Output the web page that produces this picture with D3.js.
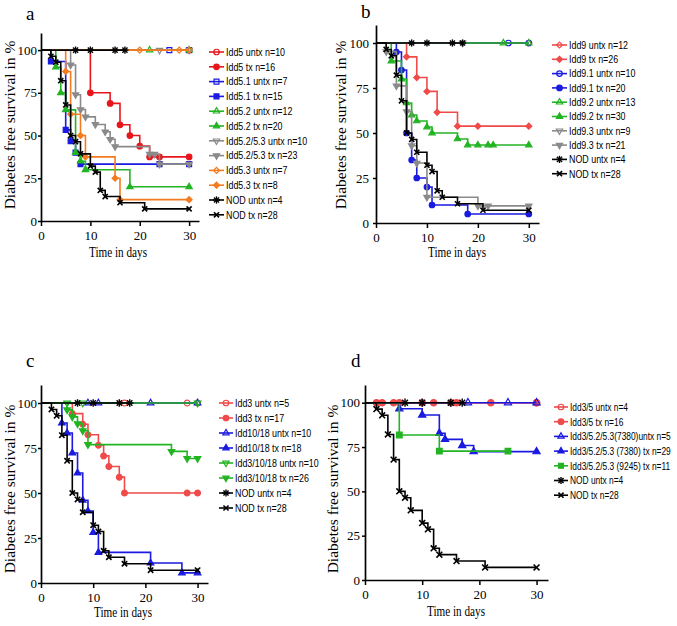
<!DOCTYPE html>
<html><head><meta charset="utf-8">
<script src="https://cdn.jsdelivr.net/npm/d3@7"></script>
<style>
body{margin:0;background:#fff;}
svg{display:block;}
</style></head><body>
<svg id="chart" width="677" height="626"></svg>
<script>
// ---------- data ----------
const ticksY = [0, 25, 50, 75, 100];
const ticksX = [0, 10, 20, 30];
const xAxisTitle = "Time in days";
const yAxisTitle = "Diabetes free survival in %";

const nodNames = ["NOD untx n=4", "NOD tx n=28"];
const nodUntxDays = [7, 10, 15, 17];
const nodUntxSurv = [100, 100, 100, 100];
const nodTxDays = [2, 3, 4, 5, 6, 7, 8, 10, 11, 12, 13, 16, 21, 30];
const nodTxSurv = [96.4, 92.9, 82.1, 67.9, 50, 46.4, 39.3, 32.1, 28.6, 17.9, 14.3, 10.7, 7.1, 7.1];

// panel a
const aNames = ["Idd5 untx n=10", "Idd5 tx n=16", "Idd5.1 untx n=7", "Idd5.1 tx n=15", "Idd5.2 untx n=12", "Idd5.2 tx n=20", "Idd5.2/5.3 untx n=10", "Idd5.2/5.3 tx n=23", "Idd5.3 untx n=7", "Idd5.3 tx n=8"];
const aDays = [[30], [10, 14, 16, 18, 20, 22, 24, 30], [26, 30], [2, 5, 6, 7, 8, 24, 30], [22, 30], [3, 4, 5, 7, 8, 9, 18, 30], [24, 30], [6, 7, 8, 9, 11, 13, 14, 15, 22, 23, 24, 30], [20, 28, 30], [5, 6, 8, 9, 15, 16, 30]];
const aSurv = [[100], [75, 68.8, 56.3, 50, 43.8, 37.5, 37.5, 37.5], [100, 100], [93.3, 53.3, 46.7, 40, 33.3, 33.3, 33.3], [100, 100], [90, 75, 65, 40, 35, 30, 20, 20], [100, 100], [91.3, 73.9, 65.2, 60.9, 56.5, 52.2, 47.8, 43.5, 39.1, 39.1, 33.3, 33.3], [100, 100, 100], [87.5, 62.5, 50, 37.5, 25, 12.5, 12.5]];

// panel b
const bNames = ["Idd9 untx n=12", "Idd9 tx n=26", "Idd9.1 untx n=10", "Idd9.1 tx n=20", "Idd9.2 untx n=13", "Idd9.2 tx n=30", "Idd9.3 untx n=9", "Idd9.3 tx n=21"];
const bDays = [[30], [6, 8, 10, 12, 16, 20, 30], [26, 30], [4, 5, 6, 7, 8, 10, 11, 18, 30], [25, 30], [3, 5, 6, 7, 8, 10, 11, 16, 18, 20, 22, 23, 30], [17], [2, 4, 6, 7, 8, 10, 20, 22, 30]];
const bSurv = [[100], [92.3, 80.8, 73.1, 61.5, 53.8, 53.8, 53.8], [100, 100], [95, 85, 50, 35, 25, 20, 10, 5, 5], [100, 100], [90, 80, 66.7, 60, 56.7, 53.3, 50, 46.7, 43.3, 43.3, 43.3, 43.3, 43.3], [100], [95.2, 76.2, 61.9, 42.9, 33.3, 14.3, 9.5, 9.5, 9.5]];

// panel c
const cNames = ["Idd3 untx n=5", "Idd3 tx n=17", "Idd10/18 untx n=10", "Idd10/18 tx n=18", "Idd3/10/18 untx n=10", "Idd3/10/18 tx n=26"];
const cDays = [[16, 28, 30], [6, 8, 9, 11, 12, 13, 15, 16, 28, 30], [9, 11, 21, 30], [4, 5, 6, 7, 8, 9, 10, 11, 21, 27, 30], [5, 8, 30], [5, 6, 7, 8, 9, 25, 28, 30]];
const cSurv = [[100, 100, 100], [94.1, 88.2, 82.4, 76.5, 70.6, 64.7, 58.8, 50, 50, 50], [100, 100, 100, 100], [88.9, 83.3, 72.2, 61.1, 46, 40, 28, 17, 11.1, 5.6, 5.6], [100, 100, 100], [96.2, 92.3, 88.5, 84.6, 76.9, 73.1, 69.2, 69.2]];

// panel d
const dNames = ["Idd3/5 untx n=4", "Idd3/5 tx n=16", "Idd3/5.2/5.3(7380)untx n=5", "Idd3/5.2/5.3 (7380) tx n=29", "Idd3/5.2/5.3 (9245) tx n=11"];
const dDays = [[30], [2, 3, 5, 6, 10, 12, 15, 16, 22, 30], [18, 25, 30], [6, 10, 13, 14, 17, 19, 30], [6, 13, 25]];
const dSurv = [[100], [100, 100, 100, 100, 100, 100, 100, 100, 100, 100], [100, 100, 100], [96.6, 93.1, 82.8, 79.3, 75.9, 72.4, 72.4], [81.8, 72.7, 72.7]];

// ---------- styles ----------
const RED_A = "#e8161c", RED = "#f04a4a", BLUE = "#1a1ae0", GREEN = "#22b422", GRAY = "#8a8a8a", ORANGE = "#f47b20", BLACK = "#000";
const nodColors = [BLACK, BLACK];
const nodSymbols = ["asterisk", "cross"];
const aColors = [RED_A, RED_A, BLUE, BLUE, GREEN, GREEN, GRAY, GRAY, ORANGE, ORANGE];
const aSymbols = ["circle-open", "circle", "square-open", "square", "triangle-open", "triangle", "tridown-open", "tridown", "diamond-open", "diamond"];
const bColors = [RED, RED, BLUE, BLUE, GREEN, GREEN, GRAY, GRAY];
const bSymbols = ["diamond-open", "diamond", "circle-open", "circle", "triangle-open", "triangle", "tridown-open", "tridown"];
const cColors = [RED, RED, BLUE, BLUE, GREEN, GREEN];
const cSymbols = ["circle-open", "circle", "triangle-open", "triangle", "tridown-open", "tridown"];
const dColors = [RED, RED, BLUE, BLUE, GREEN];
const dSymbols = ["circle-open", "circle", "triangle-open", "triangle", "square"];

const panels = [
  {letter: "a", names: aNames, days: aDays, surv: aSurv, colors: aColors, symbols: aSymbols,
   x0: 41, x32: 199, y0: 221, y110: 33, pad: 1, letterPos: [26, 20], ylab: [15, 125], xlab: [118, 257],
   leg: {x1: 209, x2: 224, tx: 226, y: 52, dy: 14.8, sx: 0.84}, ms: 1},
  {letter: "b", names: bNames, days: bDays, surv: bSurv, colors: bColors, symbols: bSymbols,
   x0: 376, x32: 539, y0: 223, y110: 25, pad: 4, letterPos: [361, 18], ylab: [346, 125], xlab: [457, 257],
   leg: {x1: 552, x2: 567, tx: 569, y: 45, dy: 14.3, sx: 0.84}, ms: 1},
  {letter: "c", names: cNames, days: cDays, surv: cSurv, colors: cColors, symbols: cSymbols,
   x0: 41, x32: 208, y0: 583, y110: 385, pad: 1, letterPos: [26, 367], ylab: [15, 489], xlab: [123, 617],
   leg: {x1: 219, x2: 233, tx: 235, y: 403, dy: 15, sx: 0.84}, ms: 1.05},
  {letter: "d", names: dNames, days: dDays, surv: dSurv, colors: dColors, symbols: dSymbols,
   x0: 365, x32: 548, y0: 580, y110: 385, pad: 2, letterPos: [351, 367], ylab: [338, 489], xlab: [456, 616],
   leg: {x1: 554, x2: 568, tx: 570, y: 407, dy: 14.7, sx: 0.79}, ms: 1.15}
];

const svg = d3.select("#chart");
const serif = "'Liberation Serif','Times New Roman',serif";
const sans = "'Liberation Sans',Arial,sans-serif";

function drawSymbol(g, type, cx, cy, color, k) {
  const open = type.endsWith("-open");
  const base = type.replace("-open", "");
  if (base === "asterisk") {
    const r = 3.6 * k;
    [0, 45, 90, 135].forEach(a => {
      const rad = a * Math.PI / 180;
      g.append("line").attr("x1", cx - r * Math.cos(rad)).attr("y1", cy - r * Math.sin(rad))
        .attr("x2", cx + r * Math.cos(rad)).attr("y2", cy + r * Math.sin(rad))
        .attr("stroke", color).attr("stroke-width", 1.4);
    });
    return;
  }
  if (base === "cross") {
    const r = 3.6 * k;
    [45, 135].forEach(a => {
      const rad = a * Math.PI / 180;
      g.append("line").attr("x1", cx - r * Math.cos(rad)).attr("y1", cy - r * Math.sin(rad))
        .attr("x2", cx + r * Math.cos(rad)).attr("y2", cy + r * Math.sin(rad))
        .attr("stroke", color).attr("stroke-width", 1.6);
    });
    return;
  }
  let sym = d3.symbolCircle, rot = 0, area = 24;
  if (base === "square") { sym = d3.symbolSquare; area = 24; }
  if (base === "triangle") { sym = d3.symbolTriangle; area = 17; }
  if (base === "tridown") { sym = d3.symbolTriangle; rot = 180; area = 17; }
  if (base === "diamond") { sym = d3.symbolSquare; rot = 45; area = 18; }
  g.append("path").attr("d", d3.symbol(sym, area * k * k)())
    .attr("transform", `translate(${cx},${cy}) rotate(${rot})`)
    .attr("fill", open ? "none" : color)
    .attr("stroke", color).attr("stroke-width", 1.2);
}

panels.forEach(p => {
  const x = d3.scaleLinear().domain([0, 32]).range([p.x0, p.x32]);
  const y = d3.scaleLinear().domain([0, 110]).range([p.y0, p.y110]);
  const g = svg.append("g");

  const names = p.names.concat(nodNames);
  const days = p.days.concat([nodUntxDays, nodTxDays]);
  const surv = p.surv.concat([nodUntxSurv, nodTxSurv]);
  const colors = p.colors.concat(nodColors);
  const symbols = p.symbols.concat(nodSymbols);

  const line = d3.line().x(d => x(d[0])).y(d => y(d[1])).curve(d3.curveStepAfter);

  names.forEach((n, i) => {
    const pts = [[0, 100]].concat(days[i].map((t, j) => [t, surv[i][j]]));
    const sg = g.append("g");
    sg.append("path").attr("d", line(pts)).attr("fill", "none")
      .attr("stroke", colors[i]).attr("stroke-width", 1.6);
    pts.slice(1).forEach(d => drawSymbol(sg, symbols[i], x(d[0]), y(d[1]), colors[i], p.ms));
  });

  const ax = g.append("g").attr("transform", `translate(0,${p.y0})`)
    .call(d3.axisBottom(x).tickValues(ticksX).tickSize(5).tickPadding(5).tickSizeOuter(0));
  const ay = g.append("g").attr("transform", `translate(${p.x0},0)`)
    .call(d3.axisLeft(y).tickValues(ticksY).tickSize(3).tickPadding(p.pad).tickSizeOuter(0));
  [ax, ay].forEach(a => {
    a.select(".domain").attr("stroke", "#000").attr("stroke-width", 1.7);
    a.selectAll(".tick line").attr("stroke", "#000").attr("stroke-width", 1.5);
    a.selectAll(".tick text").attr("fill", "#000").style("font-family", serif).style("font-size", "13px");
  });

  g.append("text").attr("x", p.xlab[0]).attr("y", p.xlab[1]).attr("text-anchor", "middle")
    .style("font-family", serif).style("font-size", "14.5px").attr("textLength", 58)
    .attr("lengthAdjust", "spacingAndGlyphs").text(xAxisTitle);
  g.append("text").attr("transform", `translate(${p.ylab[0]},${p.ylab[1]}) rotate(-90)`)
    .attr("text-anchor", "middle").style("font-family", serif).style("font-size", "15.5px").text(yAxisTitle);
  g.append("text").attr("x", p.letterPos[0]).attr("y", p.letterPos[1])
    .style("font-family", serif).style("font-size", "19px").text(p.letter);

  const lg = g.append("g");
  names.forEach((n, i) => {
    const yy = p.leg.y + i * p.leg.dy;
    lg.append("line").attr("x1", p.leg.x1).attr("x2", p.leg.x2).attr("y1", yy).attr("y2", yy)
      .attr("stroke", colors[i]).attr("stroke-width", 1.6);
    drawSymbol(lg, symbols[i], (p.leg.x1 + p.leg.x2) / 2, yy, colors[i], 1);
    lg.append("text").attr("transform", `translate(${p.leg.tx},${yy + 3.8}) scale(${p.leg.sx},1)`)
      .style("font-family", sans).style("font-size", "10.6px").attr("fill", "#000").text(n);
  });
});
</script>
</body></html>
